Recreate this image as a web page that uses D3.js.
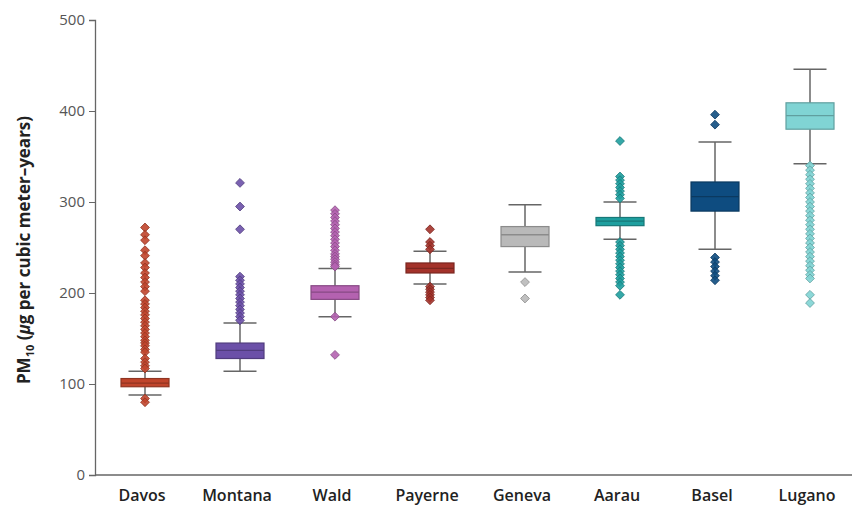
<!DOCTYPE html>
<html>
<head>
<meta charset="utf-8">
<script src="https://cdn.jsdelivr.net/npm/d3@7"></script>
<style>
  body { margin: 0; background: #fff; }
  text { font-family: "Open Sans", "Noto Sans", sans-serif; }
</style>
</head>
<body>
<svg width="852" height="508"></svg>
<script>
const cities = ["Davos", "Montana", "Wald", "Payerne", "Geneva", "Aarau", "Basel", "Lugano"];
const lowWhisker = [88, 114, 174, 210, 223, 259, 248, 342];
const q1 = [97, 128, 193, 222, 251, 274, 290, 380];
const median = [101, 137, 201, 227, 264, 279, 306, 395];
const q3 = [106, 145, 208, 233, 273, 283, 322, 409];
const highWhisker = [114, 167, 227, 246, 297, 300, 366, 446];
const outliers = [
  [272, 264, 258, 247, 241, 233, 228, 222, 217, 212, 207, 202, 192, 188, 184, 180, 176, 172, 168,
   164, 160, 156, 152, 148, 145, 142, 138, 135, 128, 124, 120, 117, 84, 80],
  [321, 295, 270, 218, 214, 210, 206, 202, 198, 194, 190, 186, 182, 178, 174, 170],
  [291, 287, 283, 279, 275, 271, 267, 263, 259, 255, 251, 247, 243, 240, 237, 234, 231, 229, 174, 132],
  [270, 256, 252, 248, 207, 204, 201, 198, 195, 192],
  [212, 194],
  [367, 328, 324, 320, 316, 312, 308, 304, 256, 252, 248, 244, 240, 236, 232, 228, 224, 220, 216, 212, 208, 198],
  [396, 385, 239, 234, 229, 224, 219, 214],
  [340, 335, 330, 325, 320, 315, 310, 305, 300, 295, 290, 285, 280, 275, 270, 265, 260, 255, 250,
   245, 240, 235, 230, 225, 220, 216, 198, 189]
];
const fills = ["#c0452c", "#6b50a8", "#b462b0", "#a3322a", "#b9b9b9", "#1e9f9f", "#0e4c80", "#80d4d4"];
const yTicks = [0, 100, 200, 300, 400, 500];

const svg = d3.select("svg");

const x = d3.scalePoint().domain(cities).range([145, 810]);
const y = d3.scaleLinear().domain([0, 500]).range([475, 20]);

const boxW = 48;
const capW = 33;

// axes
const yAxis = svg.append("g")
  .attr("transform", "translate(95,0)")
  .call(d3.axisLeft(y).tickValues(yTicks).tickSize(6).tickPadding(4));
yAxis.select(".domain").attr("stroke", "#666").attr("stroke-width", 1.3);
yAxis.selectAll(".tick line").attr("stroke", "#666");
yAxis.selectAll(".tick text")
  .attr("fill", "#555")
  .style("font-size", "15px");

svg.append("line")
  .attr("x1", 95).attr("x2", 852)
  .attr("y1", y(0)).attr("y2", y(0))
  .attr("stroke", "#666").attr("stroke-width", 1.3);

svg.append("g")
  .selectAll("text")
  .data(cities)
  .join("text")
  .attr("x", (d) => x(d) - 3)
  .attr("y", 501)
  .attr("text-anchor", "middle")
  .attr("fill", "#222")
  .style("font-size", "16px")
  .style("font-weight", "600")
  .text((d) => d);

// y title
const title = svg.append("text")
  .attr("transform", "translate(30,250) rotate(-90)")
  .attr("text-anchor", "middle")
  .attr("fill", "#222")
  .style("font-size", "17px")
  .style("font-weight", "700");
title.append("tspan").text("PM");
title.append("tspan").attr("dy", 4).style("font-size", "11px").text("10");
title.append("tspan").attr("dy", -4).text(" (");
title.append("tspan").style("font-style", "italic").text("μ");
title.append("tspan").text("g per cubic meter–years)");

// boxes
const groups = svg.append("g")
  .selectAll("g")
  .data(cities)
  .join("g")
  .attr("transform", (d) => `translate(${x(d)},0)`);

groups.append("line")
  .attr("y1", (d, i) => y(lowWhisker[i]))
  .attr("y2", (d, i) => y(highWhisker[i]))
  .attr("stroke", "#666").attr("stroke-width", 1.5);

groups.each(function (d, i) {
  const g = d3.select(this);
  [lowWhisker[i], highWhisker[i]].forEach((v) => {
    g.append("line")
      .attr("x1", -capW / 2).attr("x2", capW / 2)
      .attr("y1", y(v)).attr("y2", y(v))
      .attr("stroke", "#666").attr("stroke-width", 1.5);
  });
  const c = d3.color(fills[i]).darker(0.8);
  g.append("rect")
    .attr("x", -boxW / 2)
    .attr("y", y(q3[i]))
    .attr("width", boxW)
    .attr("height", y(q1[i]) - y(q3[i]))
    .attr("fill", fills[i])
    .attr("stroke", c).attr("stroke-width", 1.2);
  g.append("line")
    .attr("x1", -boxW / 2).attr("x2", boxW / 2)
    .attr("y1", y(median[i])).attr("y2", y(median[i]))
    .attr("stroke", c).attr("stroke-width", 1.3);

  g.selectAll("path.out")
    .data(outliers[i])
    .join("path")
    .attr("class", "out")
    .attr("transform", (v) => `translate(0,${y(v)})`)
    .attr("d", d3.symbol(d3.symbolDiamond2, 50))
    .attr("fill", fills[i])
    .attr("fill-opacity", 0.9)
    .attr("stroke", c)
    .attr("stroke-width", 0.8)
    .attr("stroke-linejoin", "round");
});
</script>
</body>
</html>
